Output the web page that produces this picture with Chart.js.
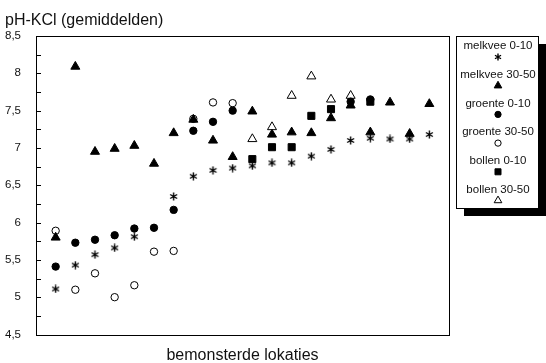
<!DOCTYPE html>
<html>
<head>
<meta charset="utf-8">
<script src="https://cdn.jsdelivr.net/npm/chart.js@4"></script>
<style>
  html, body { margin: 0; padding: 0; background: #fff; }
  #wrap { width: 546px; height: 363px; position: relative; }
</style>
</head>
<body>
<div id="wrap"><canvas id="ph"></canvas></div>
<script>
// locaties 1..20 langs de x-as
const locaties = [1, 2, 3, 4, 5, 6, 7, 8, 9, 10, 11, 12, 13, 14, 15, 16, 17, 18, 19, 20];

const melkvee010 = [5.11, 5.43, 5.57, 5.66, 5.81, null, 6.35, 6.62, 6.70, 6.73, 6.76, 6.80, 6.80, 6.89, 6.98, 7.10, 7.13, 7.12, 7.12, 7.18];
const melkvee3050 = [5.80, 8.09, 6.95, 6.99, 7.03, 6.79, 7.20, 7.38, 7.10, 6.88, 7.49, 7.18, 7.21, 7.20, 7.40, 7.57, 7.21, 7.61, 7.19, 7.59];
const groente010 = [5.41, 5.73, 5.77, 5.83, 5.92, 5.93, 6.17, 7.23, 7.35, 7.50, null, null, null, null, null, 7.62, 7.65, null, null, null];
const groente3050 = [5.89, 5.10, 5.32, 5.00, 5.16, 5.61, 5.62, 7.39, 7.61, 7.60, null, null, null, null, null, null, null, null, null, null];
const bollen010 = [null, null, null, null, null, null, null, null, null, null, 6.85, 7.01, 7.01, 7.43, 7.52, null, 7.62, null, null, null];
const bollen3050 = [null, null, null, null, null, null, null, null, null, null, 7.12, 7.28, 7.70, 7.96, 7.65, 7.70, null, null, null, null];

const reeksNamen = ['melkvee 0-10', 'melkvee 30-50', 'groente 0-10', 'groente 30-50', 'bollen 0-10', 'bollen 30-50'];
const reeksWaarden = [melkvee010, melkvee3050, groente010, groente3050, bollen010, bollen3050];

// sterretje als eigen puntstijl (6 armen)
function maakSter(size) {
  const c = document.createElement('canvas');
  c.width = size; c.height = size;
  const g = c.getContext('2d');
  const m = size / 2, r = size / 2 - 0.5;
  g.strokeStyle = '#000';
  g.lineWidth = 1.4;
  g.beginPath();
  for (let i = 0; i < 3; i++) {
    const a = Math.PI / 2 + i * Math.PI / 3;
    g.moveTo(m + Math.cos(a) * r, m - Math.sin(a) * r);
    g.lineTo(m - Math.cos(a) * r, m + Math.sin(a) * r);
  }
  g.stroke();
  return c;
}
const ster = maakSter(9);
const sterKlein = maakSter(8);

const stijlen = [
  { pointStyle: ster, radius: 4, fill: '#000', legend: sterKlein },
  { pointStyle: 'triangle', radius: 5.2, fill: '#000' },
  { pointStyle: 'circle', radius: 3.7, fill: '#000' },
  { pointStyle: 'circle', radius: 3.7, fill: '#fff' },
  { pointStyle: 'rect', radius: 5, fill: '#000' },
  { pointStyle: 'triangle', radius: 5.2, fill: '#fff' }
];

const datasets = reeksNamen.map((naam, i) => ({
  label: naam,
  data: locaties.map((x, j) => ({ x: x, y: reeksWaarden[i][j] })).filter(p => p.y !== null),
  pointStyle: stijlen[i].pointStyle,
  pointRadius: stijlen[i].radius,
  pointHoverRadius: stijlen[i].radius,
  pointBackgroundColor: stijlen[i].fill,
  pointBorderColor: '#000',
  pointBorderWidth: 1,
  showLine: false
}));

const FONT = '"Liberation Sans", Arial, sans-serif';

// kader, tickstreepjes, titels en legenda
const tekenExtra = {
  id: 'tekenExtra',
  afterDraw(chart) {
    const ctx = chart.ctx;
    const a = chart.chartArea;
    const y = chart.scales.y;
    ctx.save();

    ctx.strokeStyle = '#000';
    ctx.lineWidth = 1;
    ctx.strokeRect(Math.round(a.left) + 0.5, Math.round(a.top) + 0.5, Math.round(a.right - a.left), Math.round(a.bottom - a.top));

    ctx.beginPath();
    for (let v = 4.5; v <= 8.5001; v += 0.25) {
      const py = Math.round(y.getPixelForValue(v)) + 0.5;
      ctx.moveTo(a.left, py);
      ctx.lineTo(a.left + 5, py);
    }
    ctx.stroke();

    ctx.fillStyle = '#111';
    ctx.font = '16px ' + FONT;
    ctx.textAlign = 'left';
    ctx.textBaseline = 'alphabetic';
    ctx.fillText('pH-KCl (gemiddelden)', 5, 25);

    ctx.textAlign = 'center';
    ctx.textBaseline = 'middle';
    ctx.fillText('bemonsterde lokaties', (a.left + a.right) / 2, 356);

    // legenda met schaduw
    const bx = 456, by = 36, bw = 82, bh = 172;
    ctx.fillStyle = '#000';
    ctx.fillRect(bx + 8, by + 8, bw, bh);
    ctx.fillStyle = '#fff';
    ctx.fillRect(bx, by, bw, bh);
    ctx.strokeRect(bx + 0.5, by + 0.5, bw, bh);

    ctx.font = '11.5px ' + FONT;
    reeksNamen.forEach((naam, i) => {
      const ty = 46 + i * 28.7;
      ctx.fillStyle = '#111';
      ctx.fillText(naam, bx + bw / 2 + 1, ty);
      const st = stijlen[i];
      ctx.fillStyle = st.fill;
      ctx.strokeStyle = '#000';
      ctx.lineWidth = 1;
      Chart.helpers.drawPoint(ctx, {
        pointStyle: st.legend || st.pointStyle,
        radius: st.radius * 0.85,
        rotation: 0,
        borderWidth: 1
      }, bx + bw / 2 + 1, ty + 11);
    });
    ctx.restore();
  }
};

new Chart(document.getElementById('ph'), {
  type: 'scatter',
  data: { datasets: datasets },
  options: {
    responsive: true,
    maintainAspectRatio: false,
    animation: false,
    layout: { padding: { left: 0, top: 36, right: 97, bottom: 28.5 } },
    plugins: {
      legend: { display: false },
      tooltip: { enabled: false }
    },
    scales: {
      x: {
        type: 'linear',
        display: false,
        min: 0,
        max: 21
      },
      y: {
        min: 4.5,
        max: 8.5,
        afterFit: s => { s.width = 36; },
        grid: { display: false },
        border: { display: false },
        ticks: {
          stepSize: 0.5,
          padding: 7,
          color: '#111',
          font: { family: FONT, size: 11.5 },
          callback: v => String(v).replace('.', ',')
        }
      }
    }
  },
  plugins: [tekenExtra]
});
</script>
</body>
</html>
